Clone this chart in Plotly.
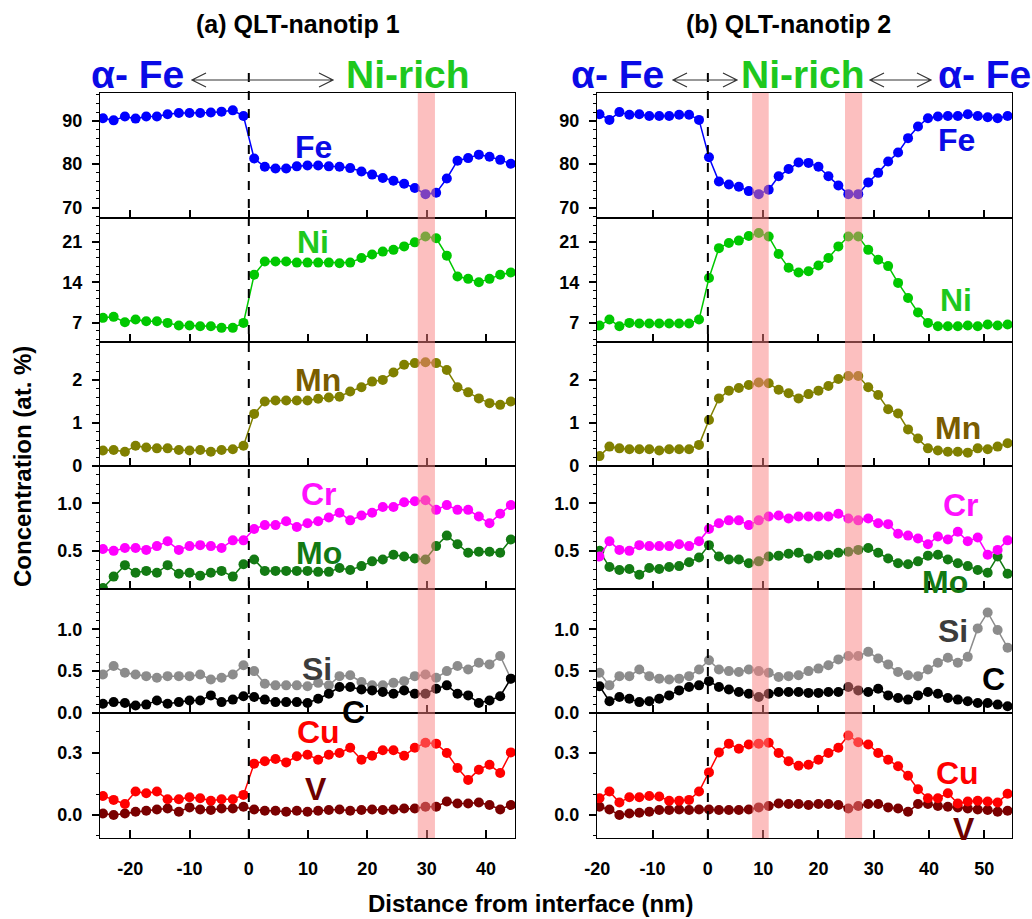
import plotly.graph_objects as go
from plotly.subplots import make_subplots

# ---------------- data ----------------
x_a = [-24.6, -22.8, -20.9, -19.1, -17.3, -15.5, -13.7, -11.8, -10.0, -8.2, -6.4, -4.6, -2.7, -0.9,
       0.9, 2.7, 4.5, 6.3, 8.1, 9.9, 11.7, 13.5, 15.3, 17.1, 19.0, 20.8, 22.6, 24.4, 26.2, 28.0,
       29.8, 31.6, 33.4, 35.2, 37.0, 38.8, 40.6, 42.4, 44.2]
fe_a = [90.6, 90.1, 91.0, 90.5, 91.0, 91.0, 91.5, 91.8, 91.8, 91.8, 91.9, 92.1, 92.4, 91.1,
        81.3, 79.4, 79.0, 79.0, 79.5, 79.7, 79.7, 79.5, 79.4, 79.1, 78.3, 77.6, 76.8, 76.2, 75.5,
        74.5, 73.1, 73.4, 76.7, 80.8, 81.4, 82.2, 81.7, 81.0, 80.1]
ni_a = [7.87, 8.04, 7.11, 7.57, 7.28, 7.28, 7.0, 6.54, 6.54, 6.43, 6.43, 6.14, 6.14, 7.0,
        15.3, 17.6, 17.6, 17.6, 17.4, 17.4, 17.4, 17.4, 17.3, 17.4, 18.2, 18.8, 19.3, 19.6, 20.2,
        20.9, 21.9, 21.6, 18.6, 15.0, 14.6, 14.0, 14.6, 15.3, 15.7]
mn_a = [0.36, 0.37, 0.33, 0.47, 0.43, 0.41, 0.41, 0.37, 0.36, 0.37, 0.33, 0.37, 0.39, 0.47,
        1.21, 1.50, 1.52, 1.52, 1.52, 1.52, 1.56, 1.59, 1.61, 1.73, 1.83, 1.96, 2.00, 2.17, 2.35,
        2.39, 2.41, 2.39, 2.23, 1.83, 1.71, 1.57, 1.46, 1.42, 1.50]
cr_a = [0.52, 0.50, 0.53, 0.53, 0.51, 0.55, 0.60, 0.51, 0.55, 0.56, 0.55, 0.53, 0.61, 0.61,
        0.73, 0.77, 0.77, 0.81, 0.75, 0.79, 0.81, 0.85, 0.90, 0.82, 0.87, 0.90, 0.96, 0.96, 1.01,
        1.02, 1.03, 0.93, 0.98, 0.93, 0.93, 0.86, 0.79, 0.89, 0.98]
mo_a = [0.11, 0.23, 0.35, 0.27, 0.29, 0.27, 0.35, 0.26, 0.27, 0.24, 0.27, 0.29, 0.23, 0.36,
        0.41, 0.29, 0.29, 0.29, 0.29, 0.29, 0.28, 0.28, 0.32, 0.30, 0.34, 0.39, 0.41, 0.46, 0.44,
        0.42, 0.41, 0.55, 0.66, 0.57, 0.48, 0.49, 0.49, 0.48, 0.62]
si_a = [0.46, 0.56, 0.48, 0.46, 0.44, 0.42, 0.44, 0.44, 0.44, 0.46, 0.40, 0.42, 0.46, 0.57,
        0.50, 0.35, 0.33, 0.33, 0.33, 0.32, 0.36, 0.33, 0.44, 0.45, 0.37, 0.33, 0.33, 0.36, 0.38,
        0.44, 0.46, 0.42, 0.50, 0.56, 0.52, 0.60, 0.58, 0.68, 0.41]
c_a = [0.11, 0.13, 0.12, 0.09, 0.10, 0.15, 0.11, 0.13, 0.15, 0.15, 0.21, 0.13, 0.16, 0.20,
       0.19, 0.16, 0.13, 0.13, 0.13, 0.12, 0.17, 0.23, 0.31, 0.31, 0.28, 0.27, 0.25, 0.23, 0.27,
       0.23, 0.23, 0.29, 0.33, 0.23, 0.21, 0.12, 0.15, 0.20, 0.41]
cu_a = [0.092, 0.073, 0.053, 0.113, 0.105, 0.113, 0.076, 0.076, 0.086, 0.081, 0.069, 0.076, 0.076, 0.097,
        0.247, 0.258, 0.269, 0.253, 0.282, 0.290, 0.266, 0.290, 0.298, 0.323, 0.266, 0.285, 0.311,
        0.311, 0.285, 0.323, 0.347, 0.343, 0.298, 0.226, 0.169, 0.218, 0.242, 0.202, 0.301]
v_a = [0.008, 0.0, 0.008, 0.016, 0.021, 0.027, 0.032, 0.016, 0.037, 0.027, 0.024, 0.032, 0.032, 0.040,
       0.027, 0.021, 0.021, 0.016, 0.021, 0.016, 0.021, 0.024, 0.027, 0.021, 0.024, 0.027, 0.024,
       0.027, 0.032, 0.032, 0.040, 0.040, 0.065, 0.056, 0.056, 0.060, 0.048, 0.027, 0.048]

x_b = [-19.6, -17.8, -16.0, -14.2, -12.4, -10.6, -8.8, -7.0, -5.2, -3.4, -1.6, 0.2, 2.0, 3.8,
       5.6, 7.4, 9.2, 11.0, 12.8, 14.6, 16.4, 18.2, 20.0, 21.8, 23.6, 25.4, 27.2, 29.0, 30.8,
       32.6, 34.4, 36.2, 38.0, 39.8, 41.6, 43.4, 45.2, 47.0, 48.8, 50.6, 52.4, 54.2]
fe_b = [91.5, 90.2, 92.0, 91.4, 91.5, 91.1, 91.1, 91.1, 91.4, 91.4, 90.2, 81.6, 76.0, 75.3,
        74.8, 73.8, 73.1, 74.1, 77.2, 78.9, 80.4, 80.3, 79.4, 77.2, 75.1, 73.1, 73.1, 75.8, 78.0,
        80.6, 82.7, 86.0, 88.7, 90.6, 91.0, 91.1, 91.1, 91.5, 91.1, 90.8, 90.6, 91.1]
ni_b = [6.54, 7.57, 6.43, 7.0, 6.89, 6.89, 6.89, 6.89, 6.89, 6.89, 7.57, 14.75, 19.9, 20.8,
        21.2, 22.0, 22.5, 21.9, 18.9, 16.5, 15.7, 15.9, 16.9, 18.2, 20.2, 21.9, 21.9, 19.6, 17.9,
        16.8, 13.9, 11.3, 8.8, 7.0, 6.43, 6.43, 6.43, 6.54, 6.43, 6.71, 6.54, 6.71]
mn_b = [0.23, 0.45, 0.41, 0.39, 0.39, 0.39, 0.36, 0.39, 0.39, 0.39, 0.49, 1.07, 1.57, 1.75,
        1.81, 1.88, 1.94, 1.92, 1.77, 1.69, 1.57, 1.67, 1.75, 1.86, 2.02, 2.09, 2.09, 1.83, 1.65,
        1.32, 1.22, 0.85, 0.64, 0.41, 0.36, 0.33, 0.33, 0.31, 0.41, 0.39, 0.45, 0.53]
cr_b = [0.44, 0.60, 0.51, 0.50, 0.56, 0.55, 0.55, 0.55, 0.57, 0.55, 0.60, 0.73, 0.79, 0.82,
        0.82, 0.77, 0.82, 0.86, 0.87, 0.84, 0.86, 0.86, 0.86, 0.86, 0.89, 0.84, 0.82, 0.84, 0.79,
        0.78, 0.68, 0.66, 0.63, 0.57, 0.65, 0.62, 0.70, 0.60, 0.64, 0.46, 0.51, 0.61]
mo_b = [0.50, 0.33, 0.30, 0.31, 0.25, 0.32, 0.31, 0.33, 0.34, 0.38, 0.43, 0.56, 0.44, 0.41,
        0.41, 0.37, 0.39, 0.44, 0.45, 0.47, 0.48, 0.42, 0.45, 0.46, 0.48, 0.49, 0.51, 0.53, 0.48,
        0.42, 0.37, 0.36, 0.39, 0.45, 0.46, 0.41, 0.37, 0.34, 0.30, 0.27, 0.44, 0.26]
si_b = [0.48, 0.33, 0.44, 0.44, 0.52, 0.44, 0.41, 0.40, 0.41, 0.44, 0.52, 0.63, 0.52, 0.50,
        0.49, 0.52, 0.50, 0.48, 0.43, 0.44, 0.45, 0.50, 0.53, 0.57, 0.64, 0.68, 0.68, 0.73, 0.65,
        0.58, 0.49, 0.45, 0.44, 0.52, 0.60, 0.66, 0.60, 0.67, 1.01, 1.20, 0.99, 0.78]
c_b = [0.32, 0.14, 0.19, 0.17, 0.13, 0.14, 0.17, 0.21, 0.27, 0.31, 0.33, 0.38, 0.31, 0.28,
       0.25, 0.23, 0.19, 0.23, 0.25, 0.25, 0.25, 0.24, 0.24, 0.25, 0.25, 0.31, 0.27, 0.25, 0.29,
       0.21, 0.18, 0.16, 0.21, 0.25, 0.23, 0.18, 0.16, 0.14, 0.12, 0.12, 0.10, 0.08]
cu_b = [0.081, 0.113, 0.060, 0.086, 0.086, 0.092, 0.089, 0.069, 0.069, 0.073, 0.113, 0.205, 0.301,
        0.343, 0.318, 0.339, 0.343, 0.347, 0.298, 0.258, 0.237, 0.242, 0.266, 0.298, 0.323, 0.382,
        0.350, 0.339, 0.298, 0.266, 0.234, 0.189, 0.124, 0.081, 0.081, 0.105, 0.056, 0.065, 0.069,
        0.065, 0.060, 0.102]
v_b = [0.040, 0.027, 0.0, 0.008, 0.011, 0.016, 0.024, 0.024, 0.027, 0.024, 0.027, 0.027, 0.024,
       0.024, 0.024, 0.027, 0.037, 0.044, 0.056, 0.053, 0.053, 0.048, 0.053, 0.053, 0.048, 0.032,
       0.044, 0.053, 0.053, 0.037, 0.032, 0.016, 0.053, 0.053, 0.044, 0.040, 0.037, 0.032, 0.027,
       0.024, 0.016, 0.021]

bands_a = [(28.5, 31.4)]
bands_b = [(8.0, 11.0), (24.8, 27.9)]

x_ticks_a = [-20, -10, 0, 10, 20, 30, 40]
x_ticks_b = [-20, -10, 0, 10, 20, 30, 40, 50]
x_ticktext_a = ["-20", "-10", "0", "10", "20", "30", "40"]
x_ticktext_b = ["-20", "-10", "0", "10", "20", "30", "40", "50"]

# ---------------- styling ----------------
W, H = 1032, 919
FONT = "Liberation Sans, Arial, Helvetica, sans-serif"
col = dict(Fe="#0000FF", Ni="#00C800", Mn="#808000", Cr="#FF00FF", Mo="#137A13",
           Si="#8C8C8C", C="#000000", Cu="#FF0000", V="#7A0000")
lab_col = dict(Fe="#0A0AE6", Ni="#1EC81E", Mn="#7A5C00", Cr="#FF10FF", Mo="#137A13",
               Si="#3C3C3C", C="#000000", Cu="#FF0000", V="#6E0000")

def px_x(p):
    return p / W

def px_y(p):
    return 1 - p / H

row_px = [93, 218, 342, 466, 589, 713, 838]
col_px = [(100, 515), (597, 1012)]

fig = make_subplots(rows=6, cols=2)

yranges = [[67.6, 96.4], [3.7, 25.1], [0, 2.88], [0.1, 1.39], [0, 1.48], [-0.11, 0.49]]
ytickv = [[70, 80, 90], [7, 14, 21], [0, 1, 2], [0.5, 1.0], [0.0, 0.5, 1.0], [0.0, 0.3]]
yfmt = ["d", "d", "d", ".1f", ".1f", ".1f"]
yminor = [2, 1.4, 0.2, 0.1, 0.1, 0.1]
xranges = [[-25.1, 44.9], [-20.05, 55.0]]

series = {
    0: [(x_a, fe_a, "Fe", 0.7)], 1: [(x_a, ni_a, "Ni", 0.5)], 2: [(x_a, mn_a, "Mn", 0.06)],
    3: [(x_a, mo_a, "Mo", 0.028), (x_a, cr_a, "Cr", 0.028)],
    4: [(x_a, si_a, "Si", 0.03), (x_a, c_a, "C", 0.03)],
    5: [(x_a, v_a, "V", 0.013), (x_a, cu_a, "Cu", 0.013)],
}
series_b = {
    0: [(x_b, fe_b, "Fe", 0.7)], 1: [(x_b, ni_b, "Ni", 0.5)], 2: [(x_b, mn_b, "Mn", 0.06)],
    3: [(x_b, mo_b, "Mo", 0.028), (x_b, cr_b, "Cr", 0.028)],
    4: [(x_b, si_b, "Si", 0.03), (x_b, c_b, "C", 0.03)],
    5: [(x_b, v_b, "V", 0.013), (x_b, cu_b, "Cu", 0.013)],
}

for c, ser in enumerate([series, series_b]):
    for r in range(6):
        for xs, ys, name, err in ser[r]:
            fig.add_trace(go.Scatter(
                x=xs, y=ys, mode="lines+markers", name=name, showlegend=False,
                line=dict(color=col[name], width=1.5),
                marker=dict(color=col[name], size=10, symbol="circle"),
                error_y=dict(type="constant", value=err, color=col[name], thickness=1.2, width=3),
            ), row=r + 1, col=c + 1)

for c in range(2):
    for r in range(6):
        fig.update_xaxes(
            row=r + 1, col=c + 1, automargin=False,
            domain=[px_x(col_px[c][0]), px_x(col_px[c][1])],
            range=xranges[c], showgrid=False, zeroline=False,
            showline=True, mirror=True, linecolor="black", linewidth=1.2,
            ticks="inside", ticklen=8, tickwidth=1.5, tickcolor="black",
            tickvals=x_ticks_a if c == 0 else x_ticks_b,
            ticktext=x_ticktext_a if c == 0 else x_ticktext_b,
            showticklabels=(r == 5),
            tickfont=dict(family=FONT, size=18, color="black", weight="bold"),
            ticklabelstandoff=14,
        )
        fig.update_yaxes(
            row=r + 1, col=c + 1, automargin=False,
            domain=[px_y(row_px[r + 1]), px_y(row_px[r])],
            range=yranges[r], showgrid=False, zeroline=False,
            showline=True, mirror=True, linecolor="black", linewidth=1.2,
            ticks="outside", ticklen=7, tickwidth=1.5, tickcolor="black",
            tickvals=ytickv[r], tickformat=yfmt[r],
            minor=dict(ticks="outside", ticklen=3, tickwidth=1, tickcolor="black", dtick=yminor[r]),
            tickfont=dict(family=FONT, size=18, color="black", weight="bold"),
            ticklabelstandoff=6,
        )

def xref(c, r=0):
    idx = r * 2 + c + 1
    return "x" if idx == 1 else f"x{idx}"

def yref(c, r):
    idx = r * 2 + c + 1
    return "y" if idx == 1 else f"y{idx}"

shapes = []
for c, bands in enumerate([bands_a, bands_b]):
    for b0, b1 in bands:
        shapes.append(dict(type="rect", xref=xref(c), yref="paper", x0=b0, x1=b1,
                           y0=px_y(838), y1=px_y(93), fillcolor="rgb(250,128,128)",
                           opacity=0.5, line=dict(width=0), layer="above"))
    shapes.append(dict(type="line", xref=xref(c), yref="paper", x0=0, x1=0,
                       y0=px_y(838), y1=px_y(72), line=dict(color="black", width=2, dash="dash"),
                       layer="above"))

def arrow_path(x0, x1, y, hl=14, hh=7):
    P = lambda a, b: f"{px_x(a):.5f},{px_y(b):.5f}"
    return (f"M {P(x0, y)} L {P(x1, y)} "
            f"M {P(x0 + hl, y - hh)} L {P(x0, y)} L {P(x0 + hl, y + hh)} "
            f"M {P(x1 - hl, y - hh)} L {P(x1, y)} L {P(x1 - hl, y + hh)}")

for (a0, a1) in [(192, 333), (673, 737), (870, 931)]:
    shapes.append(dict(type="path", xref="paper", yref="paper", path=arrow_path(a0, a1, 80),
                       line=dict(color="#333333", width=1.2)))

fig.update_layout(shapes=shapes)

ann = []
def txt(text, x, y, size, color, xr="paper", yr="paper", **kw):
    ann.append(dict(text=text, x=x, y=y, xref=xr, yref=yr, showarrow=False,
                    font=dict(family=FONT, size=size, color=color, weight="bold"),
                    xanchor="center", yanchor="middle", **kw))

txt("(a) QLT-nanotip 1", px_x(298), px_y(24), 25, "black")
txt("(b) QLT-nanotip 2", px_x(788), px_y(24), 25, "black")
hdr_y = px_y(74)
txt("α- Fe", px_x(137), hdr_y, 39, "#0A0AE6")
txt("Ni-rich", px_x(408), hdr_y, 39, "#1EC81E")
txt("α- Fe", px_x(617), hdr_y, 39, "#0A0AE6")
txt("Ni-rich", px_x(803), hdr_y, 39, "#1EC81E")
txt("α- Fe", px_x(984), hdr_y, 39, "#0A0AE6")
txt("Concentration (at. %)", px_x(22), px_y(467), 24, "black", textangle=-90)
txt("Distance from interface (nm)", px_x(530), px_y(903), 24, "black")

elem_labels = [
    (0, 0, "Fe", 10.9, 84.0), (0, 1, "Ni", 10.9, 21.0), (0, 2, "Mn", 11.6, 2.0),
    (0, 3, "Cr", 11.8, 1.10), (0, 3, "Mo", 11.9, 0.48), (0, 4, "Si", 11.5, 0.52),
    (0, 4, "C", 17.7, 0.01), (0, 5, "Cu", 11.8, 0.40), (0, 5, "V", 11.4, 0.126),
    (1, 0, "Fe", 44.9, 85.6), (1, 1, "Ni", 44.9, 11.0), (1, 2, "Mn", 45.2, 0.88),
    (1, 3, "Cr", 45.8, 0.98), (1, 3, "Mo", 42.9, 0.17), (1, 4, "Si", 44.4, 0.98),
    (1, 4, "C", 51.6, 0.40), (1, 5, "Cu", 45.2, 0.20), (1, 5, "V", 46.4, -0.065),
]
for c, r, name, xv, yv in elem_labels:
    txt(name, xv, yv, 32, lab_col[name], xr=xref(c, r), yr=yref(c, r))

fig.update_layout(
    annotations=ann,
    width=W, height=H, autosize=False,
    margin=dict(l=0, r=0, t=0, b=0),
    paper_bgcolor="white", plot_bgcolor="white",
    font=dict(family=FONT, color="black"),
    showlegend=False,
)

fig.write_html("out.html")
